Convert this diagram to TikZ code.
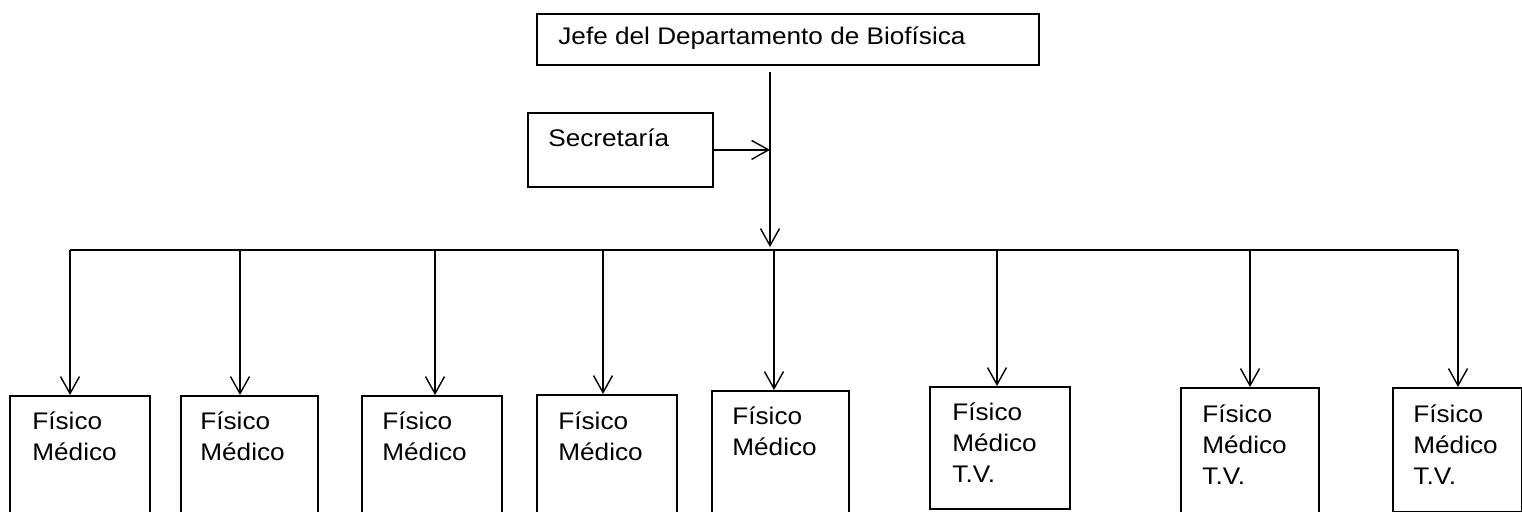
\documentclass[tikz,border=0pt]{standalone}
\usepackage{fontspec}
\setmainfont{Liberation Sans}[FakeStretch=1.09]
\usetikzlibrary{arrows.meta,calc}
\newcommand{\mylines}[1]{\begin{tabular}[t]{@{}l@{}}#1\end{tabular}}
\begin{document}
\begin{tikzpicture}[x=0.5pt,y=-0.5pt,
  box/.style={draw, line width=0.9pt, inner sep=0pt, anchor=north west},
  lbl/.style={inner sep=0pt, anchor=base west, font=\fontsize{12}{15.5}\selectfont},
  plain/.style={line width=0.7pt},
  conn/.style={line width=0.7pt, -{Straight Barb[length=8.5pt,width=9.5pt,line width=0.7pt]}}]
\useasboundingbox (0,0) rectangle (1522,512);

% top boxes
\node[box, minimum width=251pt, minimum height=25.5pt] (jefe) at (536,13) {};
\node[lbl] (tjefe) at ($(jefe.north west)+(22,32)$) {Jefe del Departamento de Biofísica};
\node[box, minimum width=92.5pt, minimum height=37pt] (sec) at (527,112) {};
\node[lbl] (tsec) at ($(sec.north west)+(21,35)$) {Secretaría};

% bottom boxes
\node[box, minimum width=70pt,   minimum height=62.5pt] (b1) at (9,395) {};
\node[box, minimum width=68.5pt, minimum height=62.5pt] (b2) at (180,395) {};
\node[box, minimum width=70pt,   minimum height=62.5pt] (b3) at (361,395) {};
\node[box, minimum width=70pt,   minimum height=63pt]   (b4) at (536,394) {};
\node[box, minimum width=68.5pt, minimum height=65pt]   (b5) at (711,390) {};
\node[box, minimum width=70pt,   minimum height=61pt]   (b6) at (929,386) {};
\node[box, minimum width=69pt,   minimum height=62.5pt] (b7) at (1180,387) {};
\node[box, minimum width=64.5pt, minimum height=62pt]   (b8) at (1392,387) {};

\node[lbl] (t1) at ($(b1.north west)+(23,35)$) {\mylines{Físico\\Médico}};
\node[lbl] (t2) at ($(b2.north west)+(20,35)$) {\mylines{Físico\\Médico}};
\node[lbl] (t3) at ($(b3.north west)+(21,35)$) {\mylines{Físico\\Médico}};
\node[lbl] (t4) at ($(b4.north west)+(22,36)$) {\mylines{Físico\\Médico}};
\node[lbl] (t5) at ($(b5.north west)+(21,35)$) {\mylines{Físico\\Médico}};
\node[lbl] (t6) at ($(b6.north west)+(23,35)$) {\mylines{Físico\\Médico\\T.V.}};
\node[lbl] (t7) at ($(b7.north west)+(22,36)$) {\mylines{Físico\\Médico\\T.V.}};
\node[lbl] (t8) at ($(b8.north west)+(21,36)$) {\mylines{Físico\\Médico\\T.V.}};

% connectors
\coordinate (jtop) at (770,72);
\coordinate (hubtip) at (770,247);
\coordinate (hl) at (70,250);
\coordinate (hr) at (1458,250);
\draw[conn] (jtop) -- (hubtip);
\draw[conn] (sec.east) -- (sec.east -| jtop);
\draw[plain] (hl) -- (hr);

\coordinate (d1) at (70,250);
\coordinate (d2) at (240,250);
\coordinate (d3) at (435,250);
\coordinate (d4) at (603,250);
\coordinate (d5) at (774,250);
\coordinate (d6) at (997,250);
\coordinate (d7) at (1250,250);
\coordinate (d8) at (1458,250);
\foreach \i in {1,...,8} {\draw[conn] (d\i) -- (d\i |- b\i.north);}
\end{tikzpicture}
\end{document}
